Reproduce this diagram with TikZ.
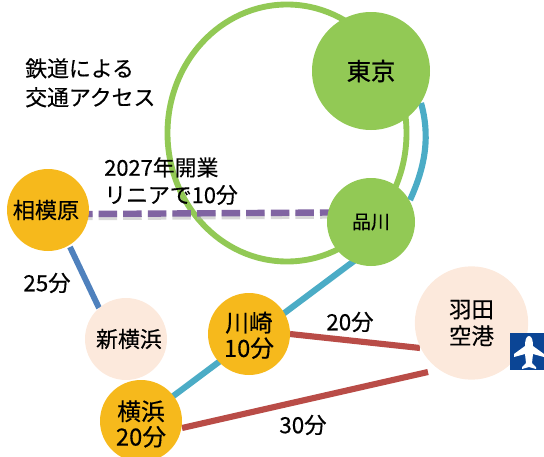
\documentclass[tikz,border=0pt]{standalone}
\usepackage{fontspec}
\usetikzlibrary{calc}
\setmainfont[FakeBold=0.35]{Noto Sans CJK JP}
\newfontfamily\heavyfont[FakeBold=0.9]{Noto Sans CJK JP}
\begin{document}
\begin{tikzpicture}[x=0.75pt,y=-0.75pt,
  goldst/.style={circle,fill=stationgold,draw=none,inner sep=0pt,minimum size=61.5pt},
  goldtext/.style={align=center,inner sep=0pt,font=\fontsize{17.8pt}{19pt}\selectfont},
  peachst/.style={circle,fill=peachbg,draw=none,inner sep=0pt,align=center},
  greenst/.style={circle,fill=tokyogreen,draw=none,inner sep=0pt},
  txt/.style={inner sep=0pt,align=left,font=\fontsize{16.4pt}{20.5pt}\selectfont},
  rail/.style={line width=4.6pt,draw=railteal},
  road/.style={line width=4.6pt,draw=roadred},
  lindash/.style={line width=4.8pt,dash pattern=on 13.9pt off 4.55pt,dash phase=10.5pt},
  ]
\definecolor{stationgold}{HTML}{F6B91C}
\definecolor{peachbg}{HTML}{FCE9DC}
\definecolor{tokyogreen}{HTML}{92C955}
\definecolor{railteal}{HTML}{4BACC6}
\definecolor{roadred}{HTML}{B94C47}
\definecolor{steel}{HTML}{4F81BD}
\definecolor{linear}{HTML}{8064A2}
\definecolor{planeblue}{HTML}{0B4595}
\useasboundingbox (0,0) rectangle (544,457);
\coordinate (lnA) at (88,214);
\coordinate (lnB) at (330,212.5);
\coordinate (r1a) at (290,334);
\coordinate (r1b) at (420,348);
\coordinate (r2a) at (182,428);
\coordinate (r2b) at (428,372);
\coordinate (t1) at (421,103);
\coordinate (t2) at (410,200);
\coordinate (t3) at (358,258);
\coordinate (t4) at (172,397);
\coordinate (s1) at (70,247);
\coordinate (s2) at (99,308);
\draw[rail] (t1) .. controls (430,135) and (426,165) .. (t2);
\draw[rail] (t3) -- (t4);
\draw[line width=4.4pt,draw=steel] (s1) -- (s2);
\draw[line width=4.4pt,draw=tokyogreen] (287,133) ellipse [x radius=119.5, y radius=128.5];
\draw[road] (r1a) -- (r1b);
\draw[road] (r2a) -- (r2b);
\draw[lindash,draw=black!30,opacity=.5] ($(lnA)+(0,3)$) -- ($(lnB)+(0,3)$);
\draw[lindash,draw=linear] (lnA) -- (lnB);
\node[greenst,minimum size=88.5pt,font=\heavyfont\fontsize{18.2pt}{20pt}\selectfont] (tokyo) at (371,71) {東京};
\node[greenst,minimum size=66pt,font=\fontsize{14.2pt}{15pt}\selectfont] (shina) at (371,222) {品川};
\node[goldst,label={[goldtext,font=\fontsize{16.6pt}{19pt}\selectfont,xshift=-1.5pt]center:相模原}] (sagami) at (48,210) {};
\node[peachst,minimum size=61.5pt,label={[inner sep=0pt,font=\fontsize{16.4pt}{19pt}\selectfont,xshift=2.2pt]center:新横浜}] (shinyoko) at (126,339) {};
\node[goldst,label={[goldtext,yshift=-1pt]center:川崎\\10分}] (kawa) at (249,334) {};
\node[goldst,label={[goldtext,yshift=-2.2pt]center:横浜\\20分}] (yoko) at (141,421) {};
\node[peachst,minimum size=85pt,font=\fontsize{16.8pt}{20pt}\selectfont] (haneda) at (471.5,323) {羽田\\空港};
\node[txt,anchor=north west] (title) at (25,58) {鉄道による\\[1.2pt]交通アクセス};
\node[txt,anchor=north west] (lin) at (104,157) {2027年開業\\リニアで10分};
\node[txt,font=\fontsize{16.8pt}{20pt}\selectfont] (t25) at (47,283) {25分};
\node[txt,font=\fontsize{16.8pt}{20pt}\selectfont] (t20) at (350,322) {20分};
\node[txt,font=\fontsize{16.8pt}{20pt}\selectfont] (t30) at (303,425) {30分};
\node[fill=planeblue,draw=none,inner sep=0pt,minimum width=25.5pt,minimum height=27.5pt] (planebox) at (527,351.5) {};
\fill[white] (529,336) .. controls (532,336) and (533,341) .. (533,346)
 -- (544,354) -- (544,357) -- (533,354) -- (532,363) -- (536,367) -- (536,369)
 -- (529,367) -- (522,369) -- (522,367) -- (526,363) -- (525,354) -- (514,357) -- (514,354) -- (525,346)
 .. controls (525,341) and (526,336) .. (529,336) -- cycle;
\end{tikzpicture}
\end{document}
